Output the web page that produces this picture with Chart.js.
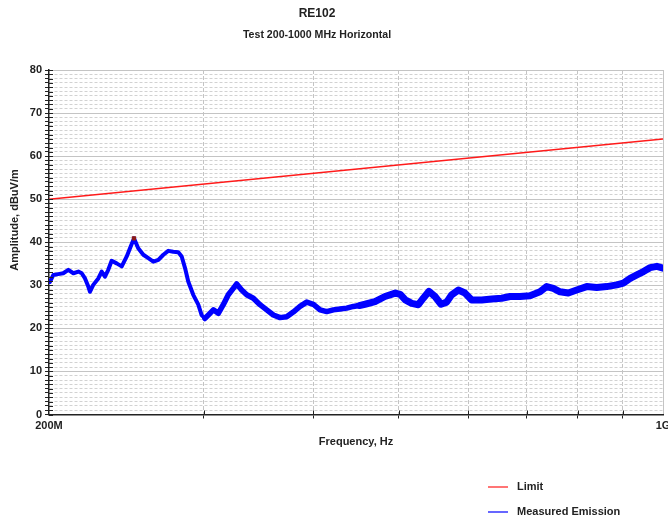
<!DOCTYPE html>
<html><head><meta charset="utf-8">
<script src="https://cdn.jsdelivr.net/npm/chart.js@4/dist/chart.umd.min.js"></script>
<style>html,body{margin:0;padding:0;background:#fff}#wrap{width:668px;height:521px;position:relative}</style>
</head><body><div id="wrap"><canvas id="c"></canvas></div>
<script>
// ---- data ----
const emissionFreqMHz = [200.5,202.3,204.9,207.6,210.4,213.2,216.0,217.9,219.8,221.7,222.7,224.6,227.6,229.6,231.6,233.6,235.7,238.8,242.0,245.2,247.3,249.9,252.7,256.1,259.5,262.9,266.4,269.9,273.4,277.0,280.7,283.2,285.7,288.1,291.9,295.8,298.4,301.0,303.6,307.7,311.7,315.8,320.0,324.2,327.1,331.4,335.8,341.7,347.7,353.9,360.1,366.5,372.9,379.4,386.2,393.0,399.9,407.0,414.2,421.4,428.9,436.5,444.1,451.1,457.9,470.0,482.5,495.7,502.2,508.9,517.5,526.6,533.5,541.5,550.1,558.8,567.2,574.7,584.7,595.1,605.6,621.7,638.2,655.2,669.6,687.4,705.6,724.4,737.2,750.1,763.4,780.2,797.6,818.8,840.5,862.9,885.8,901.2,917.5,933.8,950.1,967.0,984.1,1000];
const emissionDbuV = [30.8,32.4,32.6,32.8,33.6,32.8,33.2,32.8,31.6,29.7,28.5,30.1,31.6,33.2,32.0,33.6,35.7,35.1,34.4,36.7,38.6,40.9,38.6,37.1,36.3,35.5,35.9,37.1,38.0,37.8,37.7,36.7,34.0,30.9,27.8,25.5,23.1,22.3,23.1,24.3,23.5,25.5,27.8,29.3,30.3,28.9,27.8,27.0,25.5,24.3,23.1,22.5,22.7,23.8,25.1,26.1,25.6,24.3,23.9,24.3,24.5,24.7,25.1,25.3,25.6,26.2,27.4,28.2,27.9,26.6,25.8,25.5,27.0,28.6,27.4,25.6,26.1,27.8,28.9,28.2,26.6,26.6,26.8,27.0,27.4,27.4,27.6,28.5,29.7,29.3,28.5,28.2,28.9,29.7,29.5,29.7,30.1,30.5,31.6,32.4,33.2,34.1,34.4,34.0];
const limitFreqMHz = [200, 1000];
const limitDbuV = [50, 64];
const xTickMHz = [200,300,400,500,600,700,800,900,1000];
const xTickLabels = {200:'200M', 1000:'1G'};
const seriesNames = ['Limit', 'Measured Emission'];
const chartTitle = 'RE102';
const chartSubtitle = 'Test 200-1000 MHz Horizontal';
const yTitle = 'Amplitude, dBuV/m';
const xTitle = 'Frequency, Hz';

const FONT = '"Liberation Sans", Arial, sans-serif';
const peakIdx = emissionDbuV.indexOf(Math.max(...emissionDbuV));

const innerTicks = {
  id: 'innerTicks',
  afterDraw(chart) {
    const {ctx, chartArea: ca, scales: {x, y}} = chart;
    ctx.save();
    ctx.strokeStyle = '#222'; ctx.lineWidth = 1;
    y.ticks.forEach(t => {
      const py = Math.round(y.getPixelForValue(t.value)) + 0.5;
      ctx.beginPath(); ctx.moveTo(ca.left, py); ctx.lineTo(ca.left + 4, py); ctx.stroke();
    });
    x.ticks.forEach(t => {
      if (t.value === 200 || t.value === 1000) return;
      const px = Math.round(x.getPixelForValue(t.value)) + 0.5;
      ctx.beginPath(); ctx.moveTo(px, ca.bottom - 4); ctx.lineTo(px, ca.bottom); ctx.stroke();
    });
    ctx.restore();
  }
};

const textBlocks = {
  id: 'textBlocks',
  afterDraw(chart) {
    const {ctx, chartArea: ca} = chart;
    const cx = chart.width / 2 - 17;
    ctx.save();
    ctx.fillStyle = '#222'; ctx.textAlign = 'center'; ctx.textBaseline = 'middle';
    ctx.font = 'bold 12px ' + FONT;
    ctx.fillText(chartTitle, cx, 14);
    ctx.font = 'bold 10.6px ' + FONT;
    ctx.fillText(chartSubtitle, cx, 35);
    ctx.translate(15, ca.top + 150);
    ctx.rotate(-Math.PI / 2);
    ctx.font = 'bold 11px ' + FONT;
    ctx.fillText(yTitle, 0, 0);
    ctx.restore();
  }
};

const stackedLegend = {
  id: 'stackedLegend',
  afterDraw(chart) {
    const {ctx, chartArea: ca} = chart;
    const x0 = ca.right - 175, y0 = ca.bottom + 72.5, gap = 25;
    chart.data.datasets.forEach((ds, i) => {
      const y = y0 + i * gap;
      ctx.save();
      ctx.strokeStyle = ds.legendColor; ctx.lineWidth = 1.2;
      ctx.beginPath(); ctx.moveTo(x0, y); ctx.lineTo(x0 + 20, y); ctx.stroke();
      ctx.fillStyle = '#222'; ctx.font = 'bold 11px ' + FONT; ctx.textBaseline = 'middle';
      ctx.fillText(ds.label, x0 + 29, y);
      ctx.restore();
    });
  }
};

new Chart(document.getElementById('c'), {
  type: 'line',
  data: {
    datasets: [
      {
        label: seriesNames[0],
        data: limitFreqMHz.map((f, i) => ({x: f, y: limitDbuV[i]})),
        borderColor: '#ff1a1a', legendColor: '#ff1a1a', borderWidth: 1.5,
        pointRadius: 0, tension: 0
      },
      {
        label: seriesNames[1],
        data: emissionFreqMHz.map((f, i) => ({x: f, y: emissionDbuV[i]})),
        borderColor: '#0000ff', legendColor: '#0000ff', borderWidth: 5,
        borderJoinStyle: 'round', borderCapStyle: 'round',
        segment: { borderWidth: c => c.p0.parsed.x < 300 ? 4 : (c.p0.parsed.x < 450 ? 5.5 : 7) },
        pointRadius: c => c.dataIndex === peakIdx ? 3 : 0,
        pointStyle: 'rect', pointBackgroundColor: '#8b1a1a', pointBorderColor: '#8b1a1a', pointBorderWidth: 0,
        tension: 0
      }
    ]
  },
  options: {
    responsive: true, maintainAspectRatio: false, animation: false, devicePixelRatio: 1,
    layout: { padding: { left: 0, right: 0, top: 70, bottom: 68.4 } },
    plugins: {
      legend: { display: false },
      tooltip: { enabled: false }
    },
    scales: {
      x: {
        type: 'logarithmic', min: 200, max: 1000,
        afterBuildTicks: s => { s.ticks = xTickMHz.map(v => ({value: v})); },
        afterFit: s => { s.height = 38.1; s.paddingRight = 5; },
        ticks: { autoSkip: false, maxRotation: 0, minRotation: 0, padding: 1, color: '#222',
                 font: { family: FONT, size: 11, weight: 'bold' },
                 callback: v => xTickLabels[v] || '' },
        grid: {
          color: c => (c.tick && c.tick.value === 1000) ? '#c4c4c4' : (c.tick && c.tick.value === 200 ? 'rgba(0,0,0,0)' : '#c4c4c4'),
          tickColor: c => (c.tick && (c.tick.value === 200 || c.tick.value === 1000)) ? 'rgba(0,0,0,0)' : '#222',
          tickLength: 4, lineWidth: 1
        },
        border: { display: true, color: '#222', width: 1.5,
                  dash: c => (c.tick && c.tick.value !== 1000 && c.tick.value !== 200) ? [4, 2] : [] },
        title: { display: true, text: xTitle, color: '#222', font: { family: FONT, size: 11, weight: 'bold' }, padding: { top: 4, bottom: 4 } }
      },
      y: {
        min: 0, max: 80,
        afterFit: s => { s.width = 49; },
        ticks: { stepSize: 1, autoSkip: false, padding: 3, color: '#222',
                 font: { family: FONT, size: 11, weight: 'bold' },
                 callback: v => (v % 10 === 0 ? String(v) : '') },
        grid: {
          color: c => (c.tick && c.tick.value % 10 === 0) ? '#c4c4c4' : '#d2d2d2',
          tickColor: '#222', tickLength: 4, lineWidth: 1
        },
        border: { display: true, color: '#222', width: 1.5,
                  dash: c => (c.tick && c.tick.value % 10 !== 0) ? [3, 2] : [] },
        title: { display: false }
      }
    }
  },
  plugins: [innerTicks, textBlocks, stackedLegend]
});
</script>
</body></html>
